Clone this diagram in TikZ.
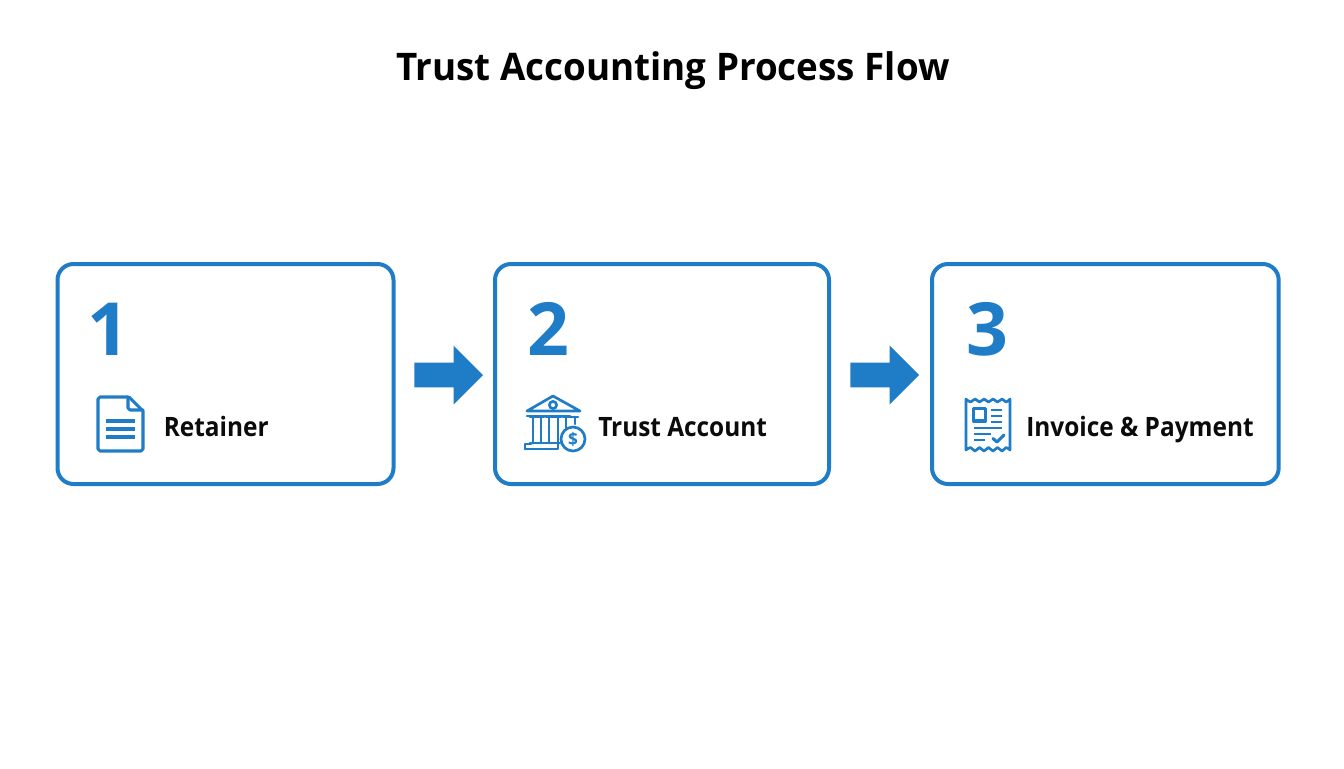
\documentclass[tikz,border=0pt]{standalone}
\usepackage{fontspec}
\setmainfont{Open Sans}
\newfontfamily\titlefont[FakeStretch=0.967]{Open Sans}
\newfontfamily\lblfont[FakeStretch=0.915]{Open Sans}
\usetikzlibrary{shapes.arrows,calc}
\definecolor{flow}{HTML}{1F7CC7}
\definecolor{ink}{HTML}{0B0B0B}
\tikzset{
 stagebox/.style={draw=flow,line width=3pt,rounded corners=12pt,fill=white,inner sep=0pt,outer sep=0pt,anchor=north west},
 num/.style={text=flow,font=\fontsize{55}{55}\selectfont\bfseries,anchor=base west,inner sep=0pt},
 lbl/.style={text=ink,font=\lblfont\fontsize{20}{20}\selectfont\bfseries,anchor=base west,inner sep=0pt},
 titlelbl/.style={text=black,font=\titlefont\fontsize{28.5}{30}\selectfont\bfseries,anchor=base,inner sep=0pt},
 flowarrow/.style={single arrow,fill=flow,draw=none,inner xsep=0pt,inner ysep=9pt,outer sep=0pt,minimum height=51.5pt,single arrow head extend=12.75pt,single arrow tip angle=90,anchor=tip},
 icon/.style={draw=flow,line width=2.3pt,line join=round,line cap=round,fill=none},
 iconthin/.style={draw=flow,line width=2pt,line join=round,line cap=round,fill=none},
}
\begin{document}
\begin{tikzpicture}[x=0.75pt,y=-0.75pt]
\useasboundingbox (0,0) rectangle (1344,768);
\fill[white] (0,0) rectangle (1344,768);
\node[titlelbl] (title) at (673,80) {Trust Accounting Process Flow};
\node[stagebox,minimum width=252pt,minimum height=165pt] (b1) at (57.5,264) {};
\node[stagebox,minimum width=250.5pt,minimum height=165pt] (b2) at (495,264) {};
\node[stagebox,minimum width=260pt,minimum height=165pt] (b3) at (932,264) {};
\node[flowarrow] (a1) at (483,375) {};
\node[flowarrow] (a2) at (919,375) {};
\node[num] (n1) at (87,355) {1};
\node[num] (n2) at (527,355) {2};
\node[num] (n3) at (966,355) {3};
\node[lbl] (l1) at (163.5,436) {Retainer};
\node[lbl] (l2) at (598,436) {Trust Account};
\node[lbl] (l3) at (1026,436) {Invoice \& Payment};
% document icon
\draw[icon] (128,397) -- (100,397) -- (98,399) -- (98,449) -- (100,451) -- (141,451) -- (143,449) -- (143,411) -- (129,397);
\draw[icon] (128,397) -- (128,408) -- (130,410) -- (143,410);
\draw[icon,line cap=butt] (106,421) -- (135,421) (106,429) -- (135,429) (106,437) -- (135,437);
% bank icon
\draw[iconthin] (527,411) -- (553,396) -- (580,411) -- cycle;
\draw[iconthin] (553,405) circle (3.6);
\draw[iconthin] (527,416) -- (570,416);
\draw[iconthin] (533,417) -- (533,443) (541,417) -- (541,443)
                (549,417) -- (549,443) (558,417) -- (558,443)
                (566,417) -- (566,430) (575,417) -- (575,424);
\draw[iconthin] (530,417) -- (544,417) (546,417) -- (561,417) (563,417) -- (578,417);
\draw[iconthin] (530,443) -- (560,443) (525,449) -- (558,449) -- (558,444) (525,449) -- (525,444) -- (531,444);
\draw[iconthin,fill=white] (573,439) circle (12);
\node[text=flow,font=\fontsize{13}{13}\selectfont\bfseries,inner sep=0pt] (d) at (573,439) {\$};
% receipt icon
\draw[iconthin] plot[smooth,tension=0.7] coordinates {(966,399) (970.5,402) (975,399) (979.5,402) (984,399) (988.5,402) (993,399) (997.5,402) (1002,399) (1006,402) (1010,399)}
  -- (1010,450)
  plot[smooth,tension=0.7] coordinates {(1010,450) (1006,447.5) (1002,451) (997.5,447.5) (993,451) (988.5,447.5) (984,451) (979.5,447.5) (975,451) (970.5,447.5) (966,450)}
  -- (966,399);
\draw[iconthin,line width=2.3pt] (973.5,408.5) rectangle (985.5,421);
\draw[iconthin,line cap=butt] (991,410) -- (1002,410) (991,416) -- (1002,416) (991,422) -- (1002,422)
  (974,428) -- (1002,428) (974,434) -- (991,434) (974,440) -- (985,440);
\draw[iconthin,line width=2.3pt] (993,438.5) -- (997,442) -- (1004,435);
\end{tikzpicture}
\end{document}
